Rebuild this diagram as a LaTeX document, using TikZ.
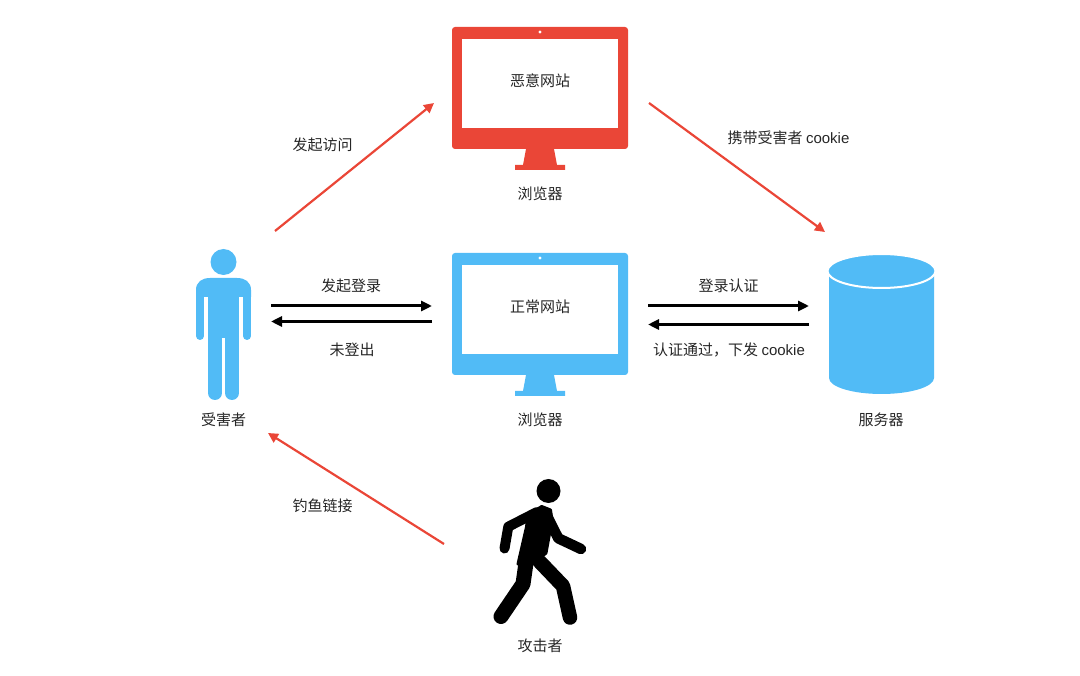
\documentclass[tikz,border=0pt]{standalone}
\usepackage{fontspec}
\setmainfont{Liberation Sans}
\newfontfamily\cjk{Noto Sans CJK SC}
\usetikzlibrary{arrows.meta}
\definecolor{sitered}{HTML}{EA4637}
\definecolor{siteblue}{HTML}{51BBF6}
\tikzset{pics/monitor/.style={code={
    %Body, screen and stand
    \fill[#1, rounded corners=3pt] (-88,0) rectangle (88,122);
    \fill[white] (-78,12) rectangle (78,101);
    \fill[white] (0,5) circle [radius=1.7];
    \fill[#1] (-14,122) -- (14,122) -- (17,138) -- (25,138) -- (25,143)
      -- (-25,143) -- (-25,138) -- (-17,138) -- cycle;
}}}

\begin{document}
\begin{tikzpicture}[x=1pt, y=-1pt,
    %Style
    label text/.style={inner sep=0pt, text=black!85, font=\fontsize{15}{18}\selectfont\cjk},
    attack line/.style={draw=sitered, line width=2.2pt, -{Triangle[length=10pt,width=10pt]}},
    normal line/.style={draw=black, line width=3pt, -{Triangle[length=11pt,width=10pt]}}]
    \useasboundingbox (0,0) rectangle (1080,676);

    %The monitors
    \pic at (540,27) {monitor=sitered};
    \pic at (540,253) {monitor=siteblue};

    %The victim
    \fill[siteblue] (223.5,262) circle [radius=13];
    \fill[siteblue] (196,297) -- (196,290)
      .. controls (196,282) and (202,278) .. (210,278) -- (237,278)
      .. controls (245,278) and (251,282) .. (251,290) -- (251,297) -- cycle;
    \fill[siteblue] (208,290) rectangle (239,338);
    \begin{scope}[siteblue, line cap=round]
      \draw[line width=8pt] (200,290) -- (200,336);
      \draw[line width=8pt] (247,290) -- (247,336);
      \draw[line width=14pt] (215,330) -- (215,393);
      \draw[line width=14pt] (232,330) -- (232,393);
    \end{scope}

    %The server
    \fill[siteblue] (829,271) -- (934,271) -- (934,378)
      arc [start angle=0, end angle=180, x radius=52.5, y radius=16] -- cycle;
    \draw[white, line width=2pt, fill=siteblue] (881.5,271) ellipse [x radius=54, y radius=17];

    %The attacker
    \fill (548.5,491) circle [radius=12];
    \begin{scope}[line cap=round, line join=round]
      \draw[line width=10pt] (537,512) -- (508.3,526.7) -- (504.5,548.5);
      \draw[line width=10.5pt] (545,512) -- (558.3,538.3) -- (581,549);
      \draw[line width=15pt] (526,563) -- (523,584) -- (501,616.5);
      \draw[line width=14.5pt] (540,562) -- (563,586) -- (570,617.5);
      \filldraw[line width=3pt] (541.7,506.5) -- (550.5,510) -- (552,520) -- (546,553) -- (533,564)
        -- (518,564) -- (526.5,527) -- (528,515) -- cycle;
    \end{scope}

    %The labels
    \node[label text] (bad site) at (540,81) {恶意网站};
    \node[label text] (bad browser) at (540,194) {浏览器};
    \node[label text] (good site) at (540,307) {正常网站};
    \node[label text] (good browser) at (540,420) {浏览器};
    \node[label text] (victim) at (223.5,420) {受害者};
    \node[label text] (server) at (881,420) {服务器};
    \node[label text] (attacker) at (540,646) {攻击者};
    \node[label text] (visit) at (322.5,145) {发起访问};
    \node[label text] (carry) at (788.5,138) {携带受害者 {\rmfamily cookie}};
    \node[label text] (login) at (351,286) {发起登录};
    \node[label text] (nologin) at (352,350) {未登出};
    \node[label text] (auth) at (728.5,286) {登录认证};
    \node[label text] (authok) at (729,350) {认证通过，下发 {\rmfamily cookie}};
    \node[label text] (phish) at (322.5,506) {钓鱼链接};

    %The connector ends
    \coordinate (victim top) at (275,231);
    \coordinate (bad left) at (434,103);
    \coordinate (bad right) at (649,103);
    \coordinate (server top) at (825,232);
    \coordinate (attacker left) at (444,544);
    \coordinate (victim low) at (268,433);
    \coordinate (victim a) at (271,306);
    \coordinate (good a) at (432,306);
    \coordinate (good b) at (432,321.5);
    \coordinate (victim b) at (271,321.5);
    \coordinate (good c) at (648,306);
    \coordinate (server a) at (809,306);
    \coordinate (server b) at (809,324.5);
    \coordinate (good d) at (648,324.5);

    \foreach \from/\to in {victim top/bad left, bad right/server top, attacker left/victim low}
      \draw[attack line] (\from) -- (\to);
    \foreach \from/\to in {victim a/good a, good b/victim b, good c/server a, server b/good d}
      \draw[normal line] (\from) -- (\to);
\end{tikzpicture}
\end{document}
